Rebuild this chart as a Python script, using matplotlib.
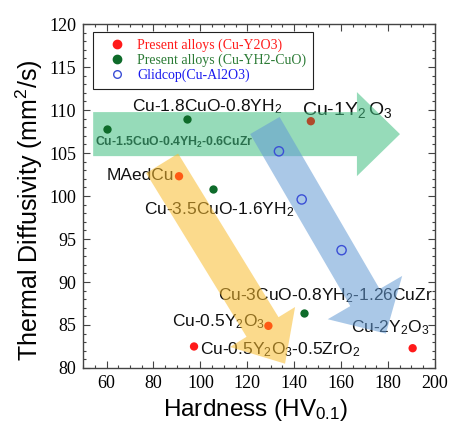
import matplotlib
matplotlib.use('Agg')
import matplotlib.pyplot as plt
from matplotlib.patches import FancyArrowPatch, ArrowStyle
from matplotlib.lines import Line2D
from matplotlib.ticker import MultipleLocator

plt.rcParams['font.family'] = ['Liberation Sans', 'DejaVu Sans']
plt.rcParams['mathtext.fontset'] = 'custom'
plt.rcParams['mathtext.rm'] = 'Liberation Sans'
plt.rcParams['mathtext.it'] = 'Liberation Sans:italic'
plt.rcParams['mathtext.bf'] = 'Liberation Sans:bold'

# Present alloys (Cu-Y2O3), incl. MAedCu reference
y2o3_hv = [90.9, 129.0, 147.1, 97.3, 190.5]
y2o3_td = [102.3, 84.9, 108.7, 82.5, 82.3]
y2o3_colors = ['#ff5a14', '#ff5a14', '#b0492a', '#ff1a1a', '#ff1a1a']

# Present alloys (Cu-YH2-CuO)
yh2_hv = [60.2, 94.3, 105.4, 144.0]
yh2_td = [107.8, 109.0, 100.8, 86.4]

# Glidcop (Cu-Al2O3)
glid_hv = [133.5, 143.2, 160.2]
glid_td = [105.2, 99.6, 93.7]

# point labels: text, x, y (baseline), size, weight
labels = [
    ('Cu-1.8CuO-0.8YH$_2$', 70.9, 109.8, 12.5, 'normal'),
    ('Cu-1Y$_2\\,$O$_3$', 143.3, 109.4, 14, 'normal'),
    ('Cu-1.5CuO-0.4YH$_\\mathbf{2}$-0.6CuZr', 55.1, 105.85, 8.8, 'bold'),
    ('MAedCu', 60.2, 101.86, 12.5, 'normal'),
    ('Cu-3.5CuO-1.6YH$_2$', 76.0, 97.9, 12.5, 'normal'),
    ('Cu-3CuO-0.8YH$_2$-1.26CuZr', 107.5, 87.83, 12.5, 'normal'),
    ('Cu-0.5Y$_2$O$_3$', 87.9, 84.8, 12.5, 'normal'),
    ('Cu-0.5Y$_2$O$_3$-0.5ZrO$_2$', 99.9, 81.63, 12.5, 'normal'),
    ('Cu-2Y$_2$O$_3$', 164.2, 84.1, 12.5, 'normal'),
]

# trend arrows: tail (x, y), tip (x, y), colour, tail/head width, head length
arrows = [
    ((54.3, 107.2), (185.1, 107.2), '#40bf80', 31.7, 60.5, 31),
    ((127.5, 108.2), (179.1, 84.0), '#649bd5', 24.5, 62, 30),
    ((83.7, 103.8), (136.1, 80.5), '#f9bc2e', 27, 55, 31),
]

fig = plt.figure(figsize=(4.54, 4.22), dpi=100)
ax = fig.add_axes([0.183, 0.128, 0.775, 0.815])

for text, x, y, size, weight in labels:
    ax.text(x, y, text, fontsize=size, fontweight=weight, color='#111111',
            ha='left', va='baseline', zorder=2)

for tail, tip, color, tw, hw, hl in arrows:
    style = ArrowStyle.Simple(head_length=hl, head_width=hw, tail_width=tw)
    arr = FancyArrowPatch(tail, tip, arrowstyle=style, mutation_scale=1,
                          color=color, alpha=0.55, lw=0, shrinkA=0, shrinkB=0,
                          zorder=4)
    ax.add_patch(arr)

ax.scatter(y2o3_hv, y2o3_td, s=36, c=y2o3_colors, zorder=5, linewidths=0)
ax.scatter(yh2_hv, yh2_td, s=36, c='#0e6b2a', zorder=5, linewidths=0)
ax.scatter(glid_hv, glid_td, s=44, facecolors='none', edgecolors='#3b4fd6',
           linewidths=1.0, zorder=5)

ax.set_xlim(50, 200)
ax.set_ylim(80, 120)
ax.xaxis.set_major_locator(MultipleLocator(20))
ax.xaxis.set_minor_locator(MultipleLocator(5))
ax.yaxis.set_major_locator(MultipleLocator(5))
ax.yaxis.set_minor_locator(MultipleLocator(1))
ax.tick_params(which='both', direction='in', top=True, right=True,
               width=0.8, color='#444444')
ax.tick_params(which='major', length=5, labelsize=13, pad=5)
ax.tick_params(which='minor', length=2.5)
for lab in ax.get_xticklabels() + ax.get_yticklabels():
    lab.set_fontfamily('Liberation Serif')
for sp in ax.spines.values():
    sp.set_color('#444444')
    sp.set_linewidth(1.0)

ax.set_xlabel('Hardness (HV$_{0.1}$)', fontsize=17.5, va='top')
ax.set_ylabel('Thermal Diffusivity (mm$^2$/s)', fontsize=18)
ax.xaxis.set_label_coords(0.49, -0.083)
ax.yaxis.set_label_coords(-0.108, 0.46)

handles = [
    Line2D([], [], ls='none', marker='o', ms=6, mfc='#ff1a1a', mec='#ff1a1a'),
    Line2D([], [], ls='none', marker='o', ms=6, mfc='#0e6b2a', mec='#0e6b2a'),
    Line2D([], [], ls='none', marker='o', ms=5.5, mfc='none', mec='#3b4fd6'),
]
names = ['Present alloys (Cu-Y2O3)', 'Present alloys (Cu-YH2-CuO)',
         'Glidcop(Cu-Al2O3)']
leg = ax.legend(handles, names, loc='upper left', bbox_to_anchor=(0.028, 0.977),
                borderaxespad=0, fancybox=False, framealpha=1, edgecolor='#222222',
                prop={'family': 'Liberation Serif', 'size': 10},
                handlelength=2.4, handletextpad=0.3, labelspacing=0.1,
                borderpad=0.5)
leg.get_frame().set_linewidth(0.8)
leg.set_zorder(6)
for t, c in zip(leg.get_texts(), ['#ff1a1a', '#2a7a34', '#1a1aee']):
    t.set_color(c)

fig.savefig('out.png', dpi=100)
